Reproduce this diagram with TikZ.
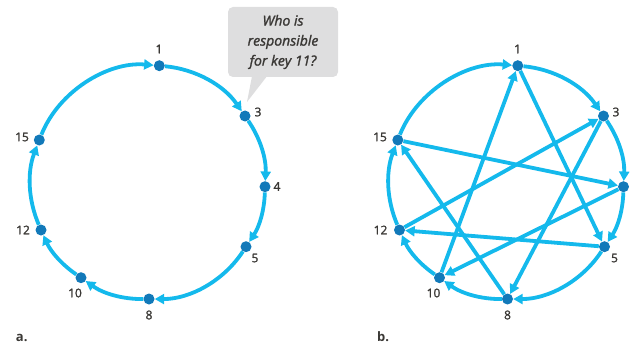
\documentclass[tikz,border=0pt]{standalone}
\usepackage{fontspec}
\setmainfont{Open Sans}
\newfontfamily\labfont[FakeBold=1.6]{Open Sans}
\usetikzlibrary{arrows.meta}
\definecolor{ring}{HTML}{14B9EC}
\definecolor{dotc}{HTML}{1279B9}
\definecolor{labc}{HTML}{3A3835}
\definecolor{boxc}{HTML}{DEDEDF}
\begin{document}
\begin{tikzpicture}[x=1pt,y=1pt,
  dot/.style={circle,fill=dotc,inner sep=0pt,minimum size=11pt},
  lab/.style={text=labc,font=\labfont\fontsize{12}{13}\selectfont,inner sep=0pt},
  plab/.style={text=labc,font=\fontsize{13}{14}\selectfont\bfseries,inner sep=0pt},
  link/.style={draw=ring,line width=3.8pt,-{Triangle[length=9.5pt,width=10pt]},looseness=0.9},
]
\useasboundingbox (0,0) rectangle (633,349);

% ---------- panel a ----------
\node[dot] (a1)  at (159.3,283.3) {};
\node[dot] (a3)  at (245,233) {};
\node[dot] (a4)  at (265,162.3) {};
\node[dot] (a5)  at (246,102.3) {};
\node[dot] (a8)  at (149,50) {};
\node[dot] (a10) at (81,71.3) {};
\node[dot] (a12) at (41,119) {};
\node[dot] (a15) at (39.3,209) {};

\draw[link] (a1)  to[bend left=25]   (a3);
\draw[link] (a3)  to[bend left=18.5] (a4);
\draw[link] (a4)  to[bend left=16]   (a5);
\draw[link] (a5)  to[bend left=28.5] (a8);
\draw[link] (a8)  to[bend left=18]   (a10);
\draw[link] (a10) to[bend left=15.5] (a12);
\draw[link] (a12) to[bend left=22]   (a15);
\draw[link] (a15) to[bend left=36.5] (a1);

\node[lab] (la1)  at (159,300) {1};
\node[lab] (la3)  at (258,237) {3};
\node[lab] (la4)  at (277,162.5) {4};
\node[lab] (la5)  at (255,91) {5};
\node[lab] (la8)  at (149,34) {8};
\node[lab] (la10) at (75,56) {10};
\node[lab] (la12) at (23,119) {12};
\node[lab] (la15) at (22,212) {15};

\node[plab] (pa) at (21.7,11) {a.};

% callout
\node[fill=boxc, rounded corners=5pt, minimum width=110pt, minimum height=70pt,
      inner sep=0pt, align=center, text=labc,
      font=\labfont\fontsize{14}{20}\selectfont\itshape] (callout) at (283,307)
      {Who is\\responsible\\for key 11?};
\coordinate (tip) at (247,247);
\fill[boxc] ([xshift=-31pt,yshift=1pt]callout.south) -- (tip)
            -- ([xshift=-16pt,yshift=1pt]callout.south) -- cycle;

% ---------- panel b ----------
\begin{scope}[xshift=358.5pt]
\node[dot] (b1)  at (159.3,283.3) {};
\node[dot] (b3)  at (245,233) {};
\node[dot] (b4)  at (265,162.3) {};
\node[dot] (b5)  at (246,102.3) {};
\node[dot] (b8)  at (149,50) {};
\node[dot] (b10) at (81,71.3) {};
\node[dot] (b12) at (41,119) {};
\node[dot] (b15) at (39.3,209) {};

\draw[link] (b1)  to[bend left=25]   (b3);
\draw[link] (b3)  to[bend left=18.5] (b4);
\draw[link] (b4)  to[bend left=16]   (b5);
\draw[link] (b5)  to[bend left=28.5] (b8);
\draw[link] (b8)  to[bend left=18]   (b10);
\draw[link] (b10) to[bend left=15.5] (b12);
\draw[link] (b12) to[bend left=22]   (b15);
\draw[link] (b15) to[bend left=36.5] (b1);

\draw[link] (b10) -- (b1);
\draw[link] (b1)  -- (b5);
\draw[link] (b12) -- (b3);
\draw[link] (b3)  -- (b8);
\draw[link] (b15) -- (b4);
\draw[link] (b4)  -- (b10);
\draw[link] (b5)  -- (b12);
\draw[link] (b8)  -- (b15);

\node[lab] (lb1)  at (159,300) {1};
\node[lab] (lb3)  at (257.5,237) {3};
\node[lab] (lb5)  at (256,91) {5};
\node[lab] (lb8)  at (149,34) {8};
\node[lab] (lb10) at (75,56) {10};
\node[lab] (lb12) at (22,119) {12};
\node[lab] (lb15) at (21.5,212) {15};

\node[plab] (pb) at (24.5,12) {b.};
\end{scope}
\end{tikzpicture}
\end{document}
